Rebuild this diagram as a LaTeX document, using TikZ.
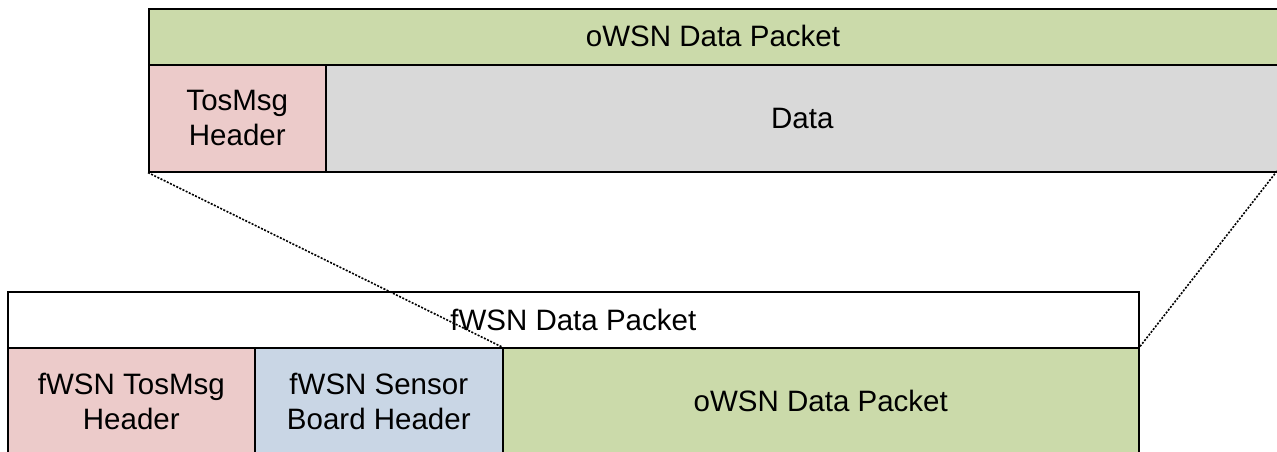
\documentclass[tikz,border=0pt]{standalone}
\usepackage{fontspec}
\setmainfont{Liberation Sans}
\begin{document}
\begin{tikzpicture}[x=1pt,y=-1pt,
  cell/.style={draw=black,line width=1.6pt,anchor=north west,inner sep=0pt,
    align=center,font=\fontsize{29.5}{35}\selectfont,text=black},
  zoomline/.style={line width=1.6pt,dash pattern=on 2pt off 1.5pt},
]
\definecolor{cgreen}{HTML}{CBDAAA}
\definecolor{cpink}{HTML}{ECCBCA}
\definecolor{cblue}{HTML}{C9D6E5}
\definecolor{cgrey}{HTML}{D9D9D9}
\useasboundingbox (0,0) rectangle (1277,452);

% upper packet: oWSN (runs past the right edge)
\node[cell,fill=cgreen,minimum width=1130pt,minimum height=56pt] (otop) at (148,8) {};
\node[font=\fontsize{29.5}{35}\selectfont] (otoplabel) at (713,36) {oWSN Data Packet};
\node[cell,fill=cpink,minimum width=177pt,minimum height=107pt] (ohdr) at (148,64) {TosMsg\\Header};
\node[cell,fill=cgrey,minimum width=953pt,minimum height=107pt] (odata) at (325,64) {Data};
\coordinate (oend) at (1277,171);

% lower packet: fWSN (runs past the bottom edge)
\node[cell,fill=white,minimum width=1131pt,minimum height=56pt] (ftop) at (7,291) {fWSN Data Packet};
\node[cell,fill=cpink,minimum width=247pt,minimum height=107pt] (fhdr) at (7,347) {fWSN TosMsg\\Header};
\node[cell,fill=cblue,minimum width=248pt,minimum height=107pt] (fsens) at (254,347) {fWSN Sensor\\Board Header};
\node[cell,fill=cgreen,minimum width=636pt,minimum height=107pt] (fdata) at (502,347) {oWSN Data Packet};

% zoom connectors
\draw[zoomline] (ohdr.south west) -- (fdata.north west);
\draw[zoomline] (oend) -- (fdata.north east);
\end{tikzpicture}
\end{document}
